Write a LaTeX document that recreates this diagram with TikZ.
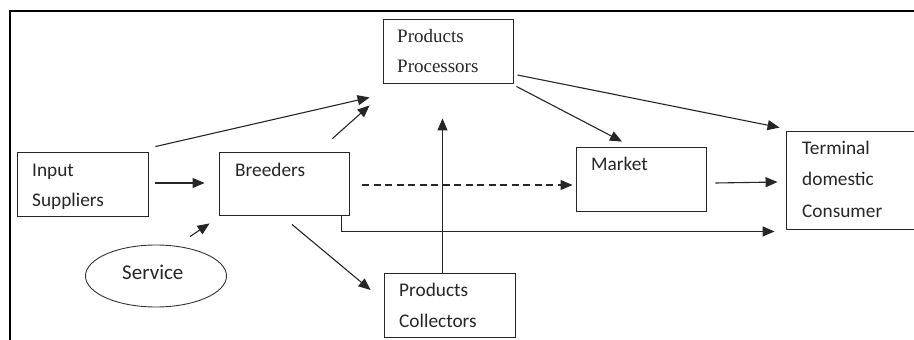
\documentclass[tikz,border=0pt]{standalone}
\usepackage{fontspec}
\setmainfont{Carlito}
\newfontfamily\serifface{Liberation Serif}
\usetikzlibrary{arrows.meta,calc,shapes.geometric}

\tikzset{
  box/.style={draw=black!85, line width=0.9pt, rectangle, inner sep=0pt},
  oval/.style={draw=black!80, line width=0.9pt, ellipse, inner sep=0pt},
  lbl/.style={anchor=base west, inner sep=0pt, text=black!85, font=\fontsize{19.3}{21}\selectfont},
  slbl/.style={lbl, font=\serifface\fontsize{19}{21}\selectfont},
  arr/.style={draw=black!85, line width=1.1pt, -{Triangle[length=12pt,width=10pt]}},
  frame/.style={draw=black, line width=1.4pt}
}

\begin{document}
\begin{tikzpicture}[x=1pt,y=-1pt]
  \useasboundingbox (0,0) rectangle (914,340);
  \clip (0,0) rectangle (914,340);

  % outer frame (top and left)
  \draw[frame] (10,340) -- (10,11) -- (920,11);

  % boxes
  \node[box, minimum width=130, minimum height=64] (proc) at (448,51) {};
  \node[box, minimum width=131, minimum height=64] (inp)  at (82.5,184) {};
  \node[box, minimum width=130, minimum height=63] (brd)  at (284,183.5) {};
  \node[oval, minimum width=141, minimum height=62] (svc) at (156,276) {};
  \node[box, minimum width=130, minimum height=64] (mkt)  at (641,179) {};
  \node[box, minimum width=144, minimum height=98] (term) at (858,180) {};
  \node[box, minimum width=131, minimum height=64] (coll) at (449.5,305) {};

  % labels
  \node[slbl] (procA) at (397,42) {Products};
  \node[slbl] (procB) at (397,72) {Processors};
  \node[lbl] (inpA) at (32,176) {Input};
  \node[lbl] (inpB) at (32,206) {Suppliers};
  \node[lbl] (brdA) at (235,176) {Breeders};
  \node[lbl, font=\fontsize{21}{23}\selectfont] (svcA) at (122,279) {Service};
  \node[lbl] (mktA) at (591,170) {Market};
  \node[lbl] (termA) at (802,154) {Terminal};
  \node[lbl] (termB) at (802,185) {domestic};
  \node[lbl] (termC) at (802,217) {Consumer};
  \node[lbl] (collA) at (399,296) {Products};
  \node[lbl] (collB) at (399,327) {Collectors};

  % connectors
  \draw[arr] ($(inp.east)+(7,-1)$) -- ($(brd.west)+(-14,-0.5)$);
  \draw[arr] ($(svc.north)+(34,-8)$) -- ($(brd.south west)+(-9,8)$);
  \draw[arr] ($(inp.north east)+(7,-5)$) -- ($(proc.south west)+(-13,14)$);
  \draw[arr] ($(brd.north east)+(-17,-13)$) -- ($(proc.south west)+(-13,22)$);
  \coordinate (upTip) at ($(proc.south)+(-5.5,35)$);
  \draw[arr] ($(coll.north)+(-7,0)$) -- (upTip);
  \draw[arr, dashed, dash pattern=on 7pt off 4.5pt] ($(brd.east)+(13,1.5)$) -- ($(mkt.west)+(-3,6)$);
  \draw[arr] ($(brd.south east)+(-8,0)$) |- ($(term.south west)+(-11,2)$);
  \draw[arr] ($(brd.south)+(8,9)$) -- ($(coll.west)+(-13,-15)$);
  \draw[arr] ($(proc.south east)+(3,3)$) -- ($(mkt.north)+(-19,-5)$);
  \draw[arr] ($(proc.east)+(4,24)$) -- ($(term.north west)+(-6,-3)$);
  \draw[arr] ($(mkt.east)+(9,4)$) -- ($(term.west)+(-8,2)$);
\end{tikzpicture}
\end{document}
